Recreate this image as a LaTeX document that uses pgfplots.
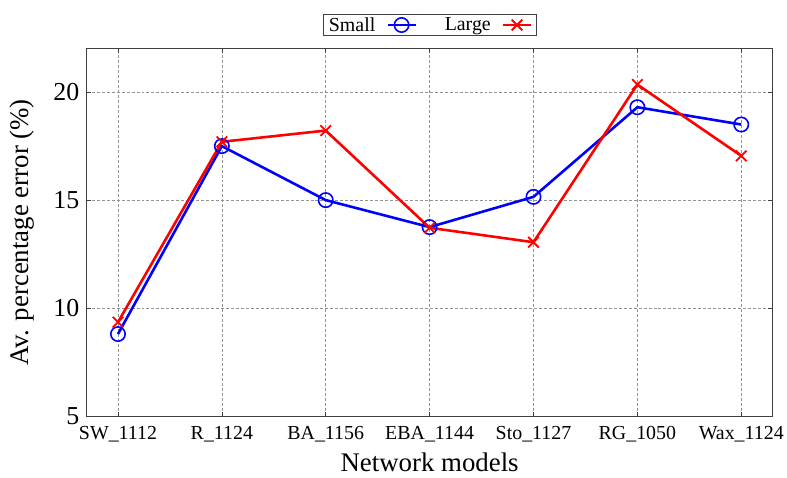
\documentclass[border=0pt]{standalone}
\usepackage{pgfplots}
\pgfplotsset{compat=1.18}
\usepackage{fontspec}
\setmainfont{Liberation Serif}
\begin{document}
\begin{tikzpicture}
\begin{axis}[
  name=main,
  scale only axis,
  width=687bp, height=368bp,
  xmin=-0.3, xmax=6.3,
  ymin=5, ymax=22,
  xtick={0,1,2,3,4,5,6},
  xticklabels={SW\_1112, R\_1124, BA\_1156, EBA\_1144, Sto\_1127, RG\_1050, Wax\_1124},
  ytick={5,10,15,20},
  yticklabel={\hbox{\rmfamily\fontsize{26}{30}\selectfont\pgfmathprintnumber[assume math mode=true]{\tick}}},
  xticklabel style={font=\rmfamily\fontsize{20}{24}\selectfont, yshift=-7bp},
  yticklabel style={xshift=-4bp},
  label style={font=\rmfamily\fontsize{27}{32}\selectfont},
  xlabel={Network models},
  ylabel={Av. percentage error (\%)},
  xlabel style={yshift=-4bp},
  ylabel style={yshift=12bp},
  grid=major,
  grid style={densely dashed, gray!85, line width=0.5pt},
  axis line style={line width=1pt, black!75},
  tick style={black!75, line width=0.6pt},
  major tick length=4bp,
  tick align=inside,
  legend style={at={(0.5,1)}, anchor=south, yshift=13bp, legend columns=4,
    draw=black!75, line width=0.6pt, font=\rmfamily\fontsize{20}{24}\selectfont,
    /tikz/every even column/.append style={column sep=26bp},
    /tikz/every odd column/.append style={column sep=9bp},
    inner xsep=4bp, inner ysep=1bp},
  legend plot pos=right,
  legend image code/.code={\draw[mark repeat=2,mark phase=2] plot coordinates {(0bp,0bp) (14bp,0bp) (28bp,0bp)};},
]
\addplot[blue, line width=2.6pt, mark=o, mark size=7.2bp, mark options={line width=1.6pt, solid}]
  coordinates {(0,8.8) (1,17.5) (2,15.0) (3,13.75) (4,15.15) (5,19.3) (6,18.5)};
\addlegendentry{Small}
\addplot[red, line width=2.6pt, mark=x, mark size=7.5bp, mark options={line width=1.8pt, solid}]
  coordinates {(0,9.35) (1,17.7) (2,18.22) (3,13.72) (4,13.05) (5,20.35) (6,17.05)};
\addlegendentry{Large}
\end{axis}
\path (main.south west) ++(-87bp,-61bp) coordinate (bl);
\path (main.north east) ++(13bp,49bp) coordinate (tr);
\path (bl) (tr);
\end{tikzpicture}
\end{document}
